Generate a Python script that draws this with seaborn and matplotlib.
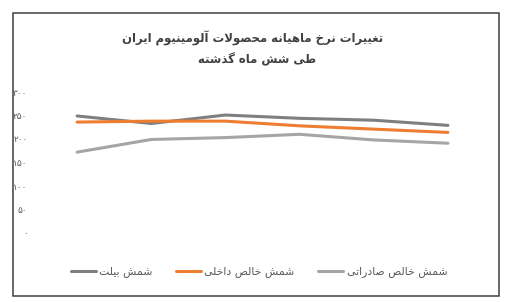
import numpy as np
import pandas as pd
import matplotlib
matplotlib.use('Agg')
import matplotlib.pyplot as plt
from matplotlib.lines import Line2D
from matplotlib.patches import Rectangle
import seaborn as sns

# داده‌ها (خوانده شده از تصویر)
months = [1, 2, 3, 4, 5, 6]
billet = [249, 233, 251, 244, 240, 229]
domestic = [236, 238, 238, 228, 221, 214]
export = [172, 199, 203, 210, 198, 191]

series_names = ['شمش بیلت', 'شمش خالص داخلی', 'شمش خالص صادراتی']
series_colors = ['#7f7f7f', '#ed7d31', '#a5a5a5']
title_1 = 'تغییرات نرخ ماهیانه محصولات آلومینیوم ایران'
title_2 = 'طی شش ماه گذشته'
y_ticks = [0, 50, 100, 150, 200, 250, 300]

# شکل‌دهی ساده حروف فارسی (matplotlib خودش اتصال حروف را انجام نمی‌دهد)
FORMS = {
    'ا': ('\uFE8D', '\uFE8E', None, None),
    'آ': ('\uFE81', '\uFE82', None, None),
    'ب': ('\uFE8F', '\uFE90', '\uFE91', '\uFE92'),
    'ت': ('\uFE95', '\uFE96', '\uFE97', '\uFE98'),
    'ح': ('\uFEA1', '\uFEA2', '\uFEA3', '\uFEA4'),
    'خ': ('\uFEA5', '\uFEA6', '\uFEA7', '\uFEA8'),
    'د': ('\uFEA9', '\uFEAA', None, None),
    'ذ': ('\uFEAB', '\uFEAC', None, None),
    'ر': ('\uFEAD', '\uFEAE', None, None),
    'ش': ('\uFEB5', '\uFEB6', '\uFEB7', '\uFEB8'),
    'ص': ('\uFEB9', '\uFEBA', '\uFEBB', '\uFEBC'),
    'ط': ('\uFEC1', '\uFEC2', '\uFEC3', '\uFEC4'),
    'غ': ('\uFECD', '\uFECE', '\uFECF', '\uFED0'),
    'ل': ('\uFEDD', '\uFEDE', '\uFEDF', '\uFEE0'),
    'م': ('\uFEE1', '\uFEE2', '\uFEE3', '\uFEE4'),
    'ن': ('\uFEE5', '\uFEE6', '\uFEE7', '\uFEE8'),
    'ه': ('\uFEE9', '\uFEEA', '\uFEEB', '\uFEEC'),
    'و': ('\uFEED', '\uFEEE', None, None),
    'ی': ('\uFBFC', '\uFBFD', '\uFBFE', '\uFBFF'),
    'گ': ('\uFB92', '\uFB93', '\uFB94', '\uFB95'),
}


def shape(text):
    chars = list(text)
    out = []
    i = 0
    while i < len(chars):
        c = chars[i]
        prev = chars[i - 1] if i > 0 else None
        join_prev = prev in FORMS and FORMS[prev][2] is not None
        if c == 'ل' and i + 1 < len(chars) and chars[i + 1] == 'ا':
            out.append('\uFEFC' if join_prev else '\uFEFB')
            i += 2
            continue
        if c not in FORMS:
            out.append(c)
            i += 1
            continue
        nxt = chars[i + 1] if i + 1 < len(chars) else None
        join_next = nxt in FORMS and FORMS[c][2] is not None
        iso, fin, ini, med = FORMS[c]
        if join_prev and join_next:
            out.append(med)
        elif join_prev:
            out.append(fin)
        elif join_next:
            out.append(ini)
        else:
            out.append(iso)
        i += 1
    return ''.join(reversed(out))


def fa_digits(v):
    return str(v).translate(str.maketrans('0123456789', '۰۱۲۳۴۵۶۷۸۹'))


sns.set_style('white')
plt.rcParams['font.family'] = ['DejaVu Sans']

df = pd.DataFrame({
    'month': months * 3,
    'value': billet + domestic + export,
    'series': [series_names[0]] * 6 + [series_names[1]] * 6 + [series_names[2]] * 6,
})

W, H = 514, 302
fig = plt.figure(figsize=(W / 100, H / 100), dpi=100)
ax = fig.add_axes([40 / W, 1 - 233 / H, 445 / W, 141 / H])

sns.lineplot(data=df, x='month', y='value', hue='series', hue_order=series_names,
             palette=series_colors, linewidth=2.2, legend=False, ax=ax)

ax.set_xlim(0.5, 6.5)
ax.set_ylim(0, 300)
ax.set_xticks([])
ax.set_yticks(y_ticks)
ax.set_yticklabels([fa_digits(t) for t in y_ticks], fontsize=6.5, color='#595959')
ax.tick_params(axis='y', length=0, pad=9)
ax.set_xlabel('')
ax.set_ylabel('')
for s in ax.spines.values():
    s.set_visible(False)

fig.text(253 / W, 1 - 38 / H, shape(title_1), ha='center', va='center',
         fontsize=8.4, fontweight='bold', color='#404040')
fig.text(257 / W, 1 - 60 / H, shape(title_2), ha='center', va='center',
         fontsize=8.4, fontweight='bold', color='#404040')

handles = [Line2D([], [], color=c, lw=2.2) for c in series_colors]
fig.legend(handles, [shape(n) for n in series_names], loc='center',
           bbox_to_anchor=(259 / W, 1 - 272 / H), ncol=3, frameon=False,
           fontsize=7.8, labelcolor='#595959', handlelength=2.3,
           handletextpad=0.3, columnspacing=2.2)

fig.patches.append(Rectangle((12.5 / W, 1 - 296 / H), 486.5 / W, 283.5 / H,
                             transform=fig.transFigure, fill=False,
                             edgecolor='#404040', lw=1.1))

fig.savefig('out.png', dpi=100)
